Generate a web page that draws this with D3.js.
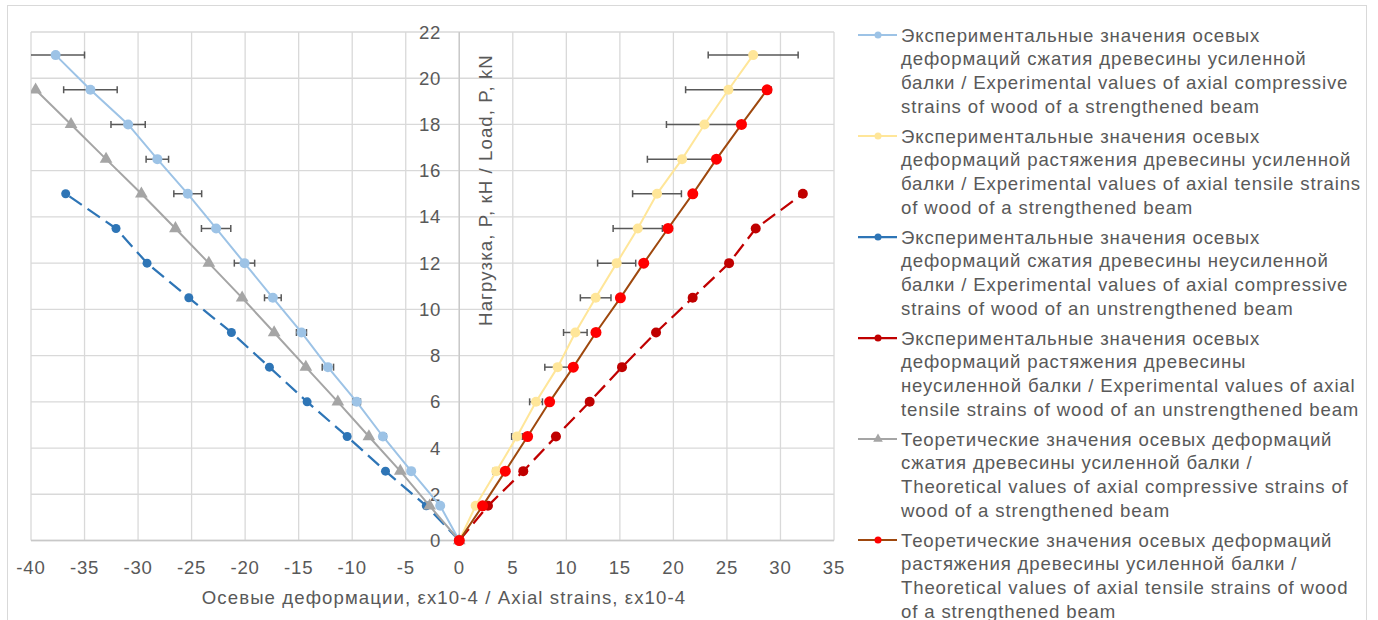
<!DOCTYPE html>
<html>
<head>
<meta charset="utf-8">
<script src="https://cdn.jsdelivr.net/npm/d3@7"></script>
<style>
  body { margin: 0; background: #fff; }
  text { font-family: "Liberation Sans", Arial, sans-serif; fill: #595959; }
</style>
</head>
<body>
<svg id="chart" width="1378" height="620"></svg>
<script>
// load steps, kN
const loads = [0, 1.5, 3, 4.5, 6, 7.5, 9, 10.5, 12, 13.5, 15, 16.5, 18, 19.5, 21];

// strains, x10-4
const expCompStr = [0, -1.78, -4.49, -7.13, -9.58, -12.27, -14.74, -17.41, -20.06, -22.71, -25.36, -28.2, -30.93, -34.45, -37.7];
const expCompStrErr = [0, 0.15, 0.2, 0.3, 0.35, 0.53, 0.47, 0.78, 0.95, 1.37, 1.3, 1.05, 1.6, 2.5, 2.7];
const expTensStr = [0, 1.53, 3.46, 5.39, 7.17, 9.19, 10.84, 12.74, 14.7, 16.67, 18.47, 20.81, 22.9, 25.14, 27.45];
const expTensStrErr = [0, 0.2, 0.3, 0.5, 0.6, 1.2, 1.1, 1.43, 1.78, 2.3, 2.28, 3.24, 3.55, 4.0, 4.2];
const expCompUnstr = [0, -3.08, -6.89, -10.47, -14.21, -17.73, -21.28, -25.26, -29.16, -32.06, -36.76];
const expTensUnstr = [0, 2.68, 5.98, 9.03, 12.18, 15.2, 18.38, 21.8, 25.2, 27.69, 32.09];
const theoComp = [0, -2.77, -5.51, -8.44, -11.34, -14.33, -17.29, -20.28, -23.39, -26.51, -29.69, -32.99, -36.26, -39.57];
const theoTens = [0, 2.18, 4.3, 6.38, 8.44, 10.65, 12.77, 15.05, 17.23, 19.5, 21.81, 24.02, 26.36, 28.75];

const xTicks = d3.range(-40, 36, 5);
const yTicks = d3.range(0, 23, 2);

const legendTexts = [
  ["Экспериментальные значения осевых", "деформаций сжатия древесины усиленной", "балки / Experimental values of axial compressive", "strains of wood of a strengthened beam"],
  ["Экспериментальные значения осевых", "деформаций растяжения древесины усиленной", "балки / Experimental values of axial tensile strains", "of wood of a strengthened beam"],
  ["Экспериментальные значения осевых", "деформаций сжатия древесины неусиленной", "балки / Experimental values of axial compressive", "strains of wood of an unstrengthened beam"],
  ["Экспериментальные значения осевых", "деформаций растяжения древесины", "неусиленной балки / Experimental values of axial", "tensile strains of wood of an unstrengthened beam"],
  ["Теоретические значения осевых деформаций", "сжатия древесины усиленной балки /", "Theoretical values of axial compressive strains of", "wood of a strengthened beam"],
  ["Теоретические значения осевых деформаций", "растяжения древесины усиленной балки /", "Theoretical values of axial tensile strains of wood", "of a strengthened beam"]
];

const series = [
  { vals: expCompStr, err: expCompStrErr, line: "#9DC3E6", marker: "#9DC3E6", shape: "circle", r: 5, dash: null, w: 2 },
  { vals: expTensStr, err: expTensStrErr, line: "#FFE699", marker: "#FFE699", shape: "circle", r: 5, dash: null, w: 2 },
  { vals: expCompUnstr, err: null, line: "#2E75B6", marker: "#2E75B6", shape: "circle", r: 4.5, dash: "15,7", w: 2.25 },
  { vals: expTensUnstr, err: null, line: "#C00000", marker: "#C00000", shape: "circle", r: 5, dash: "15,7", w: 2.25 },
  { vals: theoComp, err: null, line: "#A5A5A5", marker: "#A5A5A5", shape: "triangle", r: 5, dash: null, w: 2 },
  { vals: theoTens, err: null, line: "#9E480E", marker: "#FF0000", shape: "circle", r: 5.5, dash: null, w: 2 }
];

const svg = d3.select("#chart");
const pLeft = 31, pRight = 834, pTop = 32, pBottom = 540.5;

const x = d3.scaleLinear().domain([-40, 35]).range([pLeft, pRight]);
const y = d3.scaleLinear().domain([0, 22]).range([pBottom, pTop]);

// outer frame
svg.append("rect")
  .attr("x", 7.5).attr("y", 5.5).attr("width", 1359).attr("height", 640)
  .attr("fill", "none").attr("stroke", "#D9D9D9");

// grid
const grid = svg.append("g");
grid.selectAll(".gx").data(xTicks).join("line")
  .attr("x1", d => x(d)).attr("x2", d => x(d))
  .attr("y1", pTop).attr("y2", pBottom)
  .attr("stroke", "#D9D9D9").attr("stroke-width", 1.3);
grid.selectAll(".gy").data(yTicks).join("line")
  .attr("y1", d => y(d)).attr("y2", d => y(d))
  .attr("x1", pLeft).attr("x2", pRight)
  .attr("stroke", "#D9D9D9").attr("stroke-width", 1.3);

// axes lines
svg.append("line").attr("x1", x(0)).attr("x2", x(0)).attr("y1", pTop).attr("y2", pBottom)
  .attr("stroke", "#C8C8C8").attr("stroke-width", 1.3);
svg.append("line").attr("x1", pLeft).attr("x2", pRight).attr("y1", y(0)).attr("y2", y(0))
  .attr("stroke", "#C8C8C8").attr("stroke-width", 1.3);

// tick labels
svg.append("g").selectAll("text").data(xTicks).join("text")
  .attr("x", d => x(d)).attr("y", 567)
  .attr("text-anchor", "middle").attr("dominant-baseline", "central")
  .attr("font-size", 18.6).attr("letter-spacing", 0.8)
  .text(d => d);
svg.append("g").selectAll("text").data(yTicks).join("text")
  .attr("x", x(0) - 18).attr("y", d => y(d))
  .attr("text-anchor", "end").attr("dominant-baseline", "central")
  .attr("font-size", 18.6).attr("letter-spacing", 0.8)
  .text(d => d);

// axis titles
svg.append("text")
  .attr("x", 444).attr("y", 597)
  .attr("text-anchor", "middle").attr("dominant-baseline", "central")
  .attr("font-size", 18.6).attr("letter-spacing", 1.1)
  .text("Осевые деформации, εх10-4 / Axial strains, εх10-4");
svg.append("text")
  .attr("transform", "translate(485,190) rotate(-90)")
  .attr("text-anchor", "middle").attr("dominant-baseline", "central")
  .attr("font-size", 18.6).attr("letter-spacing", 1.1)
  .text("Нагрузка, P, кН / Load, P, kN");

svg.append("clipPath").attr("id", "plotclip")
  .append("rect").attr("x", pLeft).attr("y", pTop - 10).attr("width", pRight - pLeft).attr("height", pBottom - pTop + 20);

const plot = svg.append("g").attr("clip-path", "url(#plotclip)");
const line = d3.line().x(d => x(d[0])).y(d => y(d[1]));
const tri = d3.symbol().type(d3.symbolTriangle).size(70);

series.forEach(s => {
  const pts = s.vals.map((v, i) => [v, loads[i]]);
  const g = plot.append("g");
  g.append("path").datum(pts)
    .attr("d", line)
    .attr("fill", "none")
    .attr("stroke", s.line)
    .attr("stroke-width", s.w)
    .attr("stroke-dasharray", s.dash);
  if (s.err) {
    const eb = g.append("g").attr("stroke", "#595959").attr("stroke-width", 1.5);
    pts.forEach((p, i) => {
      const e = s.err[i];
      if (!e) return;
      const yy = y(p[1]);
      eb.append("line").attr("x1", x(p[0] - e)).attr("x2", x(p[0] + e)).attr("y1", yy).attr("y2", yy);
      eb.append("line").attr("x1", x(p[0] - e)).attr("x2", x(p[0] - e)).attr("y1", yy - 3.5).attr("y2", yy + 3.5);
      eb.append("line").attr("x1", x(p[0] + e)).attr("x2", x(p[0] + e)).attr("y1", yy - 3.5).attr("y2", yy + 3.5);
    });
  }
  if (s.shape === "triangle") {
    g.selectAll("path.m").data(pts).join("path")
      .attr("class", "m")
      .attr("d", tri)
      .attr("transform", d => `translate(${x(d[0])},${y(d[1])})`)
      .attr("fill", s.marker);
  } else {
    g.selectAll("circle").data(pts).join("circle")
      .attr("cx", d => x(d[0])).attr("cy", d => y(d[1]))
      .attr("r", s.r).attr("fill", s.marker);
  }
});

// legend
const legend = svg.append("g");
series.forEach((s, i) => {
  const y0 = 35 + i * 101;
  const lg = legend.append("g");
  lg.append("line").attr("x1", 858).attr("x2", 897).attr("y1", y0).attr("y2", y0)
    .attr("stroke", s.line).attr("stroke-width", s.w);
  if (s.shape === "triangle") {
    lg.append("path").attr("d", d3.symbol().type(d3.symbolTriangle).size(40))
      .attr("transform", `translate(878,${y0})`).attr("fill", s.marker);
  } else {
    lg.append("circle").attr("cx", 878).attr("cy", y0).attr("r", 3.5).attr("fill", s.marker);
  }
  legendTexts[i].forEach((t, j) => {
    lg.append("text")
      .attr("x", 901).attr("y", y0 + j * 23.8)
      .attr("dominant-baseline", "central")
      .attr("font-size", 18.6)
      .attr("letter-spacing", 0.85)
      .text(t);
  });
});
</script>
</body>
</html>
